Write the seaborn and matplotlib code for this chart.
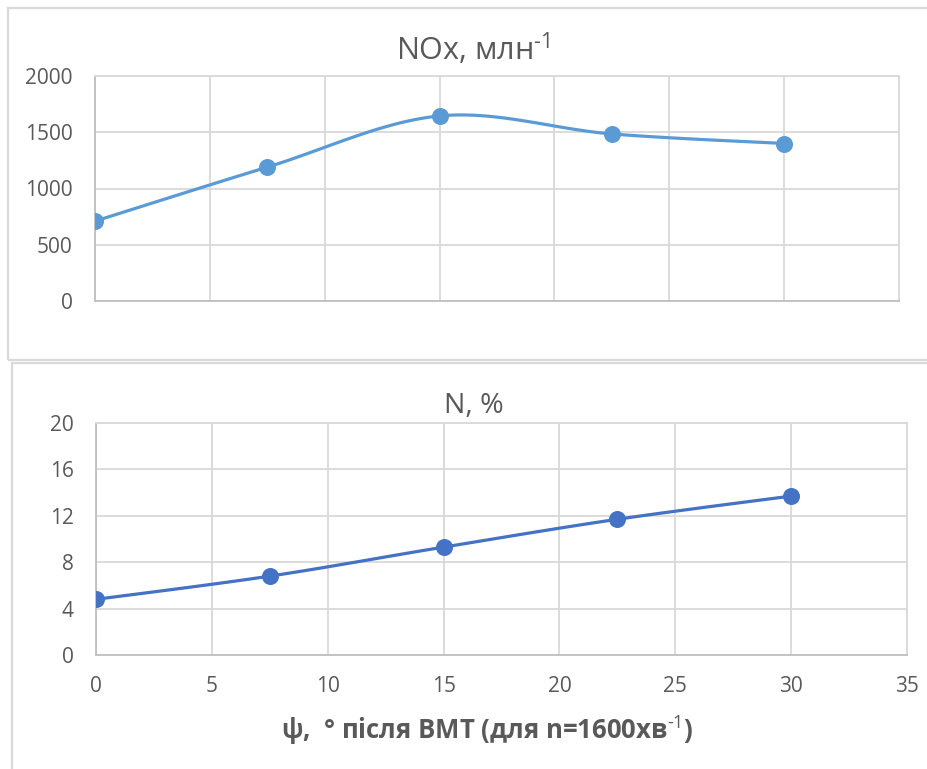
import numpy as np
import pandas as pd
import seaborn as sns
import matplotlib.pyplot as plt
from matplotlib.patches import Rectangle

# data
psi = [0, 7.5, 15, 22.5, 30]
nox = [710, 1190, 1645, 1485, 1400]
n_pct = [4.8, 6.8, 9.3, 11.7, 13.7]

nox_ticks = [0, 500, 1000, 1500, 2000]
n_ticks = [0, 4, 8, 12, 16, 20]
x_ticks = [0, 5, 10, 15, 20, 25, 30, 35]


def smooth(xs, ys, steps=30):
    # Excel-style smoothed line (Catmull-Rom through the points as cubic Bezier)
    pts = np.column_stack([xs, ys]).astype(float)
    pts = np.vstack([pts[0], pts, pts[-1]])
    out = []
    for i in range(1, len(pts) - 2):
        p0, p1, p2, p3 = pts[i - 1], pts[i], pts[i + 1], pts[i + 2]
        c1 = p1 + (p2 - p0) / 6
        c2 = p2 - (p3 - p1) / 6
        t = np.linspace(0, 1, steps)[:, None]
        seg = ((1 - t) ** 3) * p1 + 3 * ((1 - t) ** 2) * t * c1 + 3 * (1 - t) * t ** 2 * c2 + t ** 3 * p2
        out.append(seg if i == 1 else seg[1:])
    seg = np.vstack(out)
    return pd.DataFrame({"x": seg[:, 0], "y": seg[:, 1]})


sns.set_style("white")
plt.rcParams["font.family"] = ["Open Sans", "DejaVu Sans"]
plt.rcParams["mathtext.fontset"] = "custom"
plt.rcParams["mathtext.rm"] = "Open Sans"
plt.rcParams["mathtext.bf"] = "Open Sans:bold"
plt.rcParams["mathtext.default"] = "rm"

text_col = "#595959"
grid_col = "#D9D9D9"

fig = plt.figure(figsize=(9.28, 7.69), dpi=100)

# chart frames like the Excel chart areas
fig.patches.append(Rectangle((8 / 928, 1 - 360 / 769), 1.05, 352 / 769, transform=fig.transFigure,
                             fill=False, edgecolor=grid_col, linewidth=1.6))
fig.patches.append(Rectangle((12 / 928, -0.05), 1.05, 1 - 363 / 769 + 0.05, transform=fig.transFigure,
                             fill=False, edgecolor=grid_col, linewidth=1.6))

ax1 = fig.add_axes([95 / 928, 1 - 301 / 769, 804 / 928, 225 / 769])
ax2 = fig.add_axes([96 / 928, 1 - 655 / 769, 811 / 928, 232 / 769])

panels = [
    (ax1, nox, nox_ticks, "#5B9BD5"),
    (ax2, n_pct, n_ticks, "#4472C4"),
]
for ax, vals, yt, col in panels:
    curve = smooth(psi, vals)
    sns.lineplot(data=curve, x="x", y="y", ax=ax, color=col, linewidth=2.3, sort=False)
    sns.scatterplot(x=psi, y=vals, ax=ax, color=col, s=150, edgecolor=col, linewidth=0, zorder=5)
    ax.set_xlim(0, 35)
    ax.set_ylim(yt[0], yt[-1])
    ax.set_xticks(x_ticks)
    ax.set_yticks(yt)
    ax.grid(True, color=grid_col, linewidth=1.3)
    ax.set_axisbelow(True)
    for side in ["top", "right", "left", "bottom"]:
        ax.spines[side].set_color(grid_col)
        ax.spines[side].set_linewidth(1.3)
    ax.spines["left"].set_color("#BFBFBF")
    ax.spines["bottom"].set_color("#BFBFBF")
    ax.tick_params(length=0, labelsize=15, labelcolor=text_col)
    ax.tick_params(axis="y", pad=16)
    ax.tick_params(axis="x", pad=15)
    ax.set_xlabel("")
    ax.set_ylabel("")

ax1.tick_params(axis="x", labelbottom=False)

fig.text(473 / 928, 1 - 60 / 769, r"NOx, млн$^{\text{-1}}$", ha="center", va="baseline",
         fontsize=22, color=text_col)
fig.text(474 / 928, 1 - 413 / 769, "N, %", ha="center", va="baseline",
         fontsize=20.5, color=text_col)
fig.text(487 / 928, 1 - 740 / 769, r"ψ,  ° після ВМТ (для n=1600хв$^{\mathbf{\text{-1}}}$)", ha="center",
         va="baseline", fontsize=18.5, fontweight="bold", color=text_col)

fig.savefig("out.png", dpi=100)
